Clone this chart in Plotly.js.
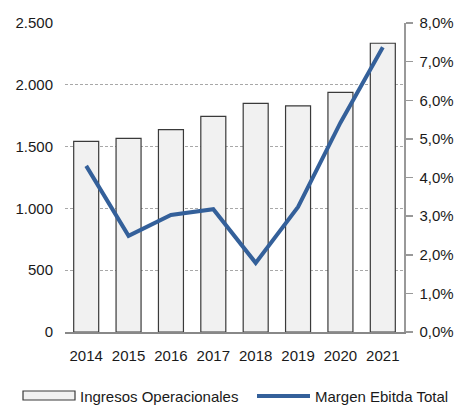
<!DOCTYPE html>
<html>
<head>
<meta charset="utf-8">
<script src="https://cdn.plot.ly/plotly-3.0.1.min.js"></script>
<style>html,body{margin:0;padding:0;background:#fff;}#chart{width:458px;height:405px;}</style>
</head>
<body>
<div id="chart"></div>
<script>
const years = ['2014','2015','2016','2017','2018','2019','2020','2021'];
const ingresos = [1543, 1567, 1637, 1745, 1850, 1829, 1939, 2336];
const margen = [0.0430, 0.0249, 0.0303, 0.0318, 0.0179, 0.0324, 0.0542, 0.0737];
const leftTicks = [0, 500, 1000, 1500, 2000, 2500];
const rightTicks = [0, 0.01, 0.02, 0.03, 0.04, 0.05, 0.06, 0.07, 0.08];
const seriesNames = ['Ingresos Operacionales', 'Margen Ebitda Total'];

const W = 458, H = 405;
const M = {l: 65, r: 54, t: 23, b: 73};
const PW = W - M.l - M.r, PH = H - M.t - M.b;
const px = x => (x - M.l) / PW;
const py = y => (H - M.b - y) / PH;

const font = {family: '"Liberation Sans", Arial, sans-serif', size: 15, color: '#1a1a1a'};
const barFill = '#f1f1f1', barLine = '#3a3a3a', lineColor = '#34609a';

const data = [
  {
    type: 'bar', x: years, y: ingresos, name: seriesNames[0],
    marker: {color: barFill, line: {color: barLine, width: 1.2}},
    hoverinfo: 'skip', showlegend: false
  },
  {
    type: 'scatter', mode: 'lines', x: years, y: margen, yaxis: 'y2',
    name: seriesNames[1],
    line: {color: lineColor, width: 4},
    hoverinfo: 'skip', showlegend: false
  }
];

const layout = {
  width: W, height: H,
  margin: M,
  paper_bgcolor: '#fff', plot_bgcolor: '#fff',
  font: font,
  separators: ',.',
  bargap: 0.41,
  showlegend: false,
  xaxis: {
    type: 'category', showline: true, linecolor: '#888', linewidth: 1.5,
    ticks: '', showgrid: false, ticklabelstandoff: 9, tickfont: font, automargin: false
  },
  yaxis: {
    range: [0, 2500], tickvals: leftTicks, tickformat: ',d',
    showgrid: true, gridcolor: '#a8a8a8', griddash: '3px,2px', gridwidth: 1,
    zeroline: false, showline: false, ticks: '', ticklabelstandoff: 11, tickfont: font, automargin: false
  },
  yaxis2: {
    overlaying: 'y', side: 'right', range: [0, 0.08], tickvals: rightTicks,
    tickformat: '.1%', showgrid: false, zeroline: false,
    showline: true, linecolor: '#999', linewidth: 1.5,
    ticks: 'outside', ticklen: 7, tickcolor: '#999', tickwidth: 1.5,
    ticklabelstandoff: 4, tickfont: font, automargin: false
  },
  shapes: [
    {type: 'rect', xref: 'paper', yref: 'paper', x0: px(23), x1: px(75), y0: py(400), y1: py(391),
     fillcolor: barFill, line: {color: barLine, width: 1.2}},
    {type: 'line', xref: 'paper', yref: 'paper', x0: px(257), x1: px(310), y0: py(396), y1: py(396),
     line: {color: lineColor, width: 4}}
  ],
  annotations: [
    {xref: 'paper', yref: 'paper', x: px(78), y: py(396), xanchor: 'left', yanchor: 'middle',
     text: seriesNames[0], showarrow: false, font: font},
    {xref: 'paper', yref: 'paper', x: px(313), y: py(396), xanchor: 'left', yanchor: 'middle',
     text: seriesNames[1], showarrow: false, font: font}
  ]
};

Plotly.newPlot('chart', data, layout, {staticPlot: true, displayModeBar: false});
</script>
</body>
</html>
